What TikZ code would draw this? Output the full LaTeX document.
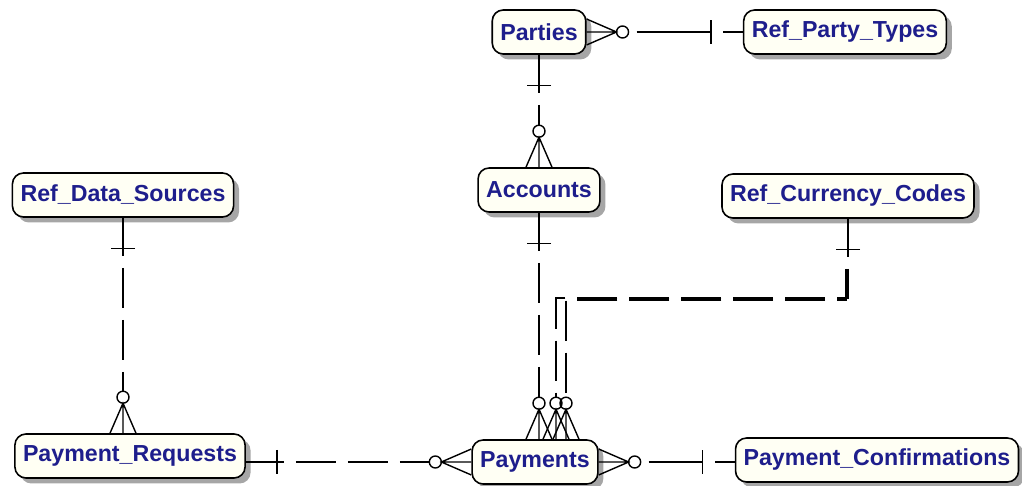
\documentclass[tikz,border=0pt]{standalone}
\usepackage{fontspec}
\setmainfont{Liberation Sans}
\usetikzlibrary{shadows}

\definecolor{entitytext}{RGB}{30,30,140}
\definecolor{entityfill}{RGB}{255,255,244}

\tikzset{
	entity/.style={draw=black, line width=0.9pt, rounded corners=0.22cm, fill=entityfill,
		drop shadow={shadow xshift=0.11cm, shadow yshift=-0.11cm, fill=black!35, opacity=1},
		text=entitytext, font=\fontsize{13.2}{15}\selectfont\bfseries,
		inner xsep=4.6pt, inner ysep=0pt, minimum height=0.88cm},
	rel/.style={line width=0.8pt},
	nonident/.style={rel, dash pattern=on 0.8cm off 0.24cm},
	zeromany/.pic={
		\draw[rel] (0,-13) -- (30,0) -- (0,13) (0,0) -- (30,0);
		\draw[rel] (36,0) circle (6);
	},
	onebar/.pic={
		\draw[rel] (0,0) -- (38,0) (31,-12) -- (31,12);
	},
	onestub/.pic={
		\draw[rel] (0,0) -- (20,0) (32,-12) -- (32,12);
	},
}

\begin{document}
\begin{tikzpicture}[x=0.02cm, y=-0.02cm]
		
		\useasboundingbox (0,0) rectangle (1022,486);
		
		%Placing entities
		\node[entity] (Parties) at (539,32) {Parties};
		\node[entity] (RefPartyTypes) at (845,32) {Ref\_Party\_Types};
		\node[entity] (Accounts) at (539,190) {Accounts};
		\node[entity] (RefDataSources) at (123,195) {Ref\_Data\_Sources};
		\node[entity] (RefCurrencyCodes) at (848,196) {Ref\_Currency\_Codes};
		\node[entity] (PaymentRequests) at (130,456) {Payment\_Requests};
		\node[entity] (Payments) at (535,462) {Payments};
		\node[entity] (PaymentConfirmations) at (877,460) {Payment\_Confirmations};
		
		%Bends of the currency links
		\coordinate (bendA) at (556,298);
		\coordinate (bendB) at (566,300);
		
		%Drawing identifying relationships
		\draw[rel, shorten <=1cm, shorten >=0.64cm] (Parties.east) -- (Parties.east -| RefPartyTypes.west);
		\pic at (Parties.east) {zeromany};
		\pic[rotate=180] at (Parties.east -| RefPartyTypes.west) {onestub};
		
		\draw[rel, shorten <=1cm, shorten >=0.84cm] (Parties.south) -- (Parties.south |- Accounts.north);
		\pic[rotate=-90] at (Parties.south) {onebar};
		\pic[rotate=90] at (Parties.south |- Accounts.north) {zeromany};
		
		\draw[rel, shorten <=1cm, shorten >=0.64cm] (Payments.east) -- (Payments.east -| PaymentConfirmations.west);
		\pic at (Payments.east) {zeromany};
		\pic[rotate=180] at (Payments.east -| PaymentConfirmations.west) {onestub};
		
		%Drawing non identifying relationships
		\draw[nonident, shorten <=1cm, shorten >=0.84cm] (RefDataSources.south) -- (RefDataSources.south |- PaymentRequests.north);
		\pic[rotate=-90] at (RefDataSources.south) {onebar};
		\pic[rotate=90] at (RefDataSources.south |- PaymentRequests.north) {zeromany};
		
		\draw[nonident, shorten <=1cm, shorten >=0.84cm] (Accounts.south) -- (Accounts.south |- Payments.north);
		\pic[rotate=-90] at (Accounts.south) {onebar};
		\pic[rotate=90] at (Accounts.south |- Payments.north) {zeromany};
		
		\draw[nonident, shorten <=1cm, shorten >=0.84cm] (PaymentRequests.east |- Payments.west) -- (Payments.west);
		\pic at (PaymentRequests.east |- Payments.west) {onebar};
		\pic[rotate=180] at (Payments.west) {zeromany};
		
		\draw[nonident, shorten <=1cm, shorten >=0.84cm] (RefCurrencyCodes.south) |- (bendA) -- (bendA |- Payments.north);
		\draw[nonident, shorten <=1cm, shorten >=0.84cm] ([xshift=-0.04cm]RefCurrencyCodes.south) |- (bendB) -- (bendB |- Payments.north);
		\pic[rotate=-90] at (RefCurrencyCodes.south) {onebar};
		\pic[rotate=90] at (bendA |- Payments.north) {zeromany};
		\pic[rotate=90] at (bendB |- Payments.north) {zeromany};
	\end{tikzpicture}
\end{document}
